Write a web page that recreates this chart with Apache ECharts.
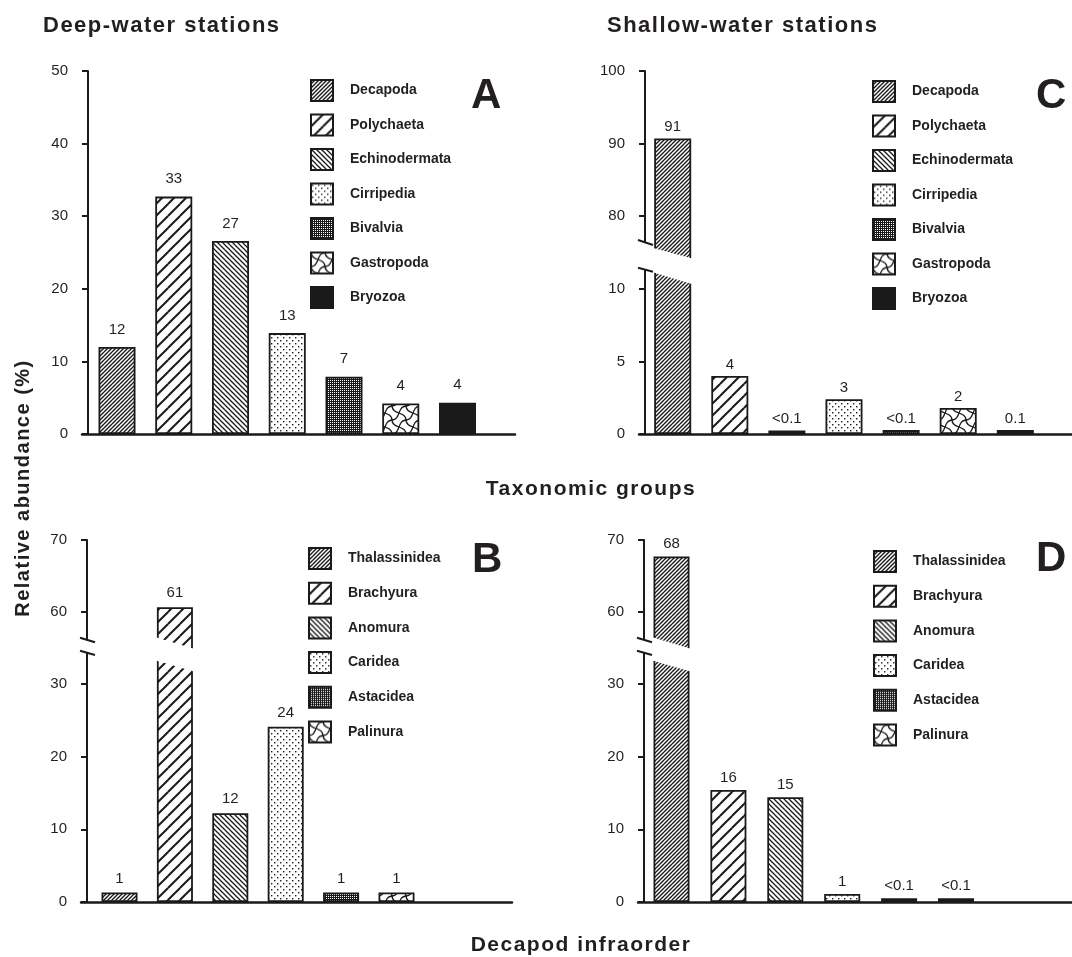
<!DOCTYPE html>
<html>
<head>
<meta charset="utf-8">
<script src="https://cdn.jsdelivr.net/npm/echarts@6/dist/echarts.min.js"></script>
<style>html,body{margin:0;padding:0;background:#fff}#c{width:1072px;height:957px}</style>
</head>
<body>
<div id="c"></div>
<script>
// ---------------- DATA ----------------
const taxaGroups = ['Decapoda', 'Polychaeta', 'Echinodermata', 'Cirripedia', 'Bivalvia', 'Gastropoda', 'Bryozoa'];
const deepTaxaValues = [12.0, 32.7, 26.6, 13.9, 7.9, 4.2, 4.3];
const deepTaxaLabels = ['12', '33', '27', '13', '7', '4', '4'];
const shallowTaxaValues = [90.7, 4.0, 0.25, 2.4, 0.28, 1.8, 0.28];
const shallowTaxaLabels = ['91', '4', '<0.1', '3', '<0.1', '2', '0.1'];

const infraorders = ['Thalassinidea', 'Brachyura', 'Anomura', 'Caridea', 'Astacidea', 'Palinura'];
const deepInfraValues = [1.3, 60.6, 12.2, 24.1, 1.3, 1.3];
const deepInfraLabels = ['1', '61', '12', '24', '1', '1'];
const shallowInfraValues = [67.7, 15.4, 14.4, 1.1, 0.5, 0.5];
const shallowInfraLabels = ['68', '16', '15', '1', '<0.1', '<0.1'];

const ticksA = [0, 10, 20, 30, 40, 50];
const ticksCLow = [0, 5, 10];
const ticksCHigh = [80, 90, 100];
const ticksBDLow = [0, 10, 20, 30];
const ticksBDHigh = [60, 70];

// ---------------- STYLE ----------------
const FONT = '"Liberation Sans", Arial, Helvetica, sans-serif';
const INK = '#1a1a1a';
const TXT = '#231f20';
const patternKinds = ['dense', 'sparse', 'back', 'dots', 'fine', 'wave', 'solid'];

// slight tracking for the large bold headings (as in the original typesetting)
(function () {
  const P = CanvasRenderingContext2D.prototype;
  const orig = P.fillText;
  P.fillText = function (t, x, y, m) {
    const r = /bold\s+([\d.]+)px/.exec(this.font || '');
    const sz = r ? parseFloat(r[1]) : 0;
    if (sz >= 18 && sz <= 30 && 'letterSpacing' in this) {
      const prev = this.letterSpacing;
      this.letterSpacing = '1.5px';
      if (m === undefined) orig.call(this, t, x, y); else orig.call(this, t, x, y, m);
      this.letterSpacing = prev;
      return;
    }
    if (m === undefined) return orig.call(this, t, x, y);
    return orig.call(this, t, x, y, m);
  };
})();

function makeFill(kind) {
  if (kind === 'solid') return INK;
  const sizes = {dense: 4, sparse: 12, back: 5, dots: 6, fine: 2, wave: 14};
  const s = sizes[kind];
  const c = document.createElement('canvas');
  c.width = s; c.height = s;
  const g = c.getContext('2d');
  g.fillStyle = '#fff'; g.fillRect(0, 0, s, s);
  g.strokeStyle = INK; g.fillStyle = INK;
  if (kind === 'dense' || kind === 'sparse') {
    g.lineWidth = kind === 'dense' ? 1.35 : 2;
    for (let i = -1; i <= 1; i++) for (let j = -1; j <= 1; j++) {
      g.beginPath(); g.moveTo(i * s, s + j * s); g.lineTo(i * s + s, j * s); g.stroke();
    }
  } else if (kind === 'back') {
    g.lineWidth = 1.3;
    for (let i = -1; i <= 1; i++) for (let j = -1; j <= 1; j++) {
      g.beginPath(); g.moveTo(i * s, j * s); g.lineTo(i * s + s, s + j * s); g.stroke();
    }
  } else if (kind === 'dots') {
    g.fillRect(1, 1, 1.4, 1.4); g.fillRect(4, 4, 1.4, 1.4);
  } else if (kind === 'fine') {
    g.fillStyle = INK; g.fillRect(0, 0, 2, 2);
    g.fillStyle = '#fff'; g.fillRect(0, 0, 1, 1);
  } else if (kind === 'wave') {
    g.lineWidth = 1.3;
    for (let i = -1; i <= 1; i++) for (let j = -1; j <= 1; j++) {
      const ox = i * s, oy = j * s;
      g.beginPath();
      g.moveTo(ox, oy + s);
      g.bezierCurveTo(ox + 0.65 * s, oy + 0.95 * s, ox + 0.35 * s, oy + 0.05 * s, ox + s, oy);
      g.stroke();
      g.beginPath();
      g.moveTo(ox, oy);
      g.bezierCurveTo(ox + 0.05 * s, oy + 0.65 * s, ox + 0.95 * s, oy + 0.35 * s, ox + s, oy + s);
      g.stroke();
    }
  }
  return {image: c, repeat: 'repeat'};
}
const fills = patternKinds.map(makeFill);

// ---------------- PANEL LAYOUT ----------------
const panelSpecs = [
  { // A
    cats: taxaGroups, values: deepTaxaValues, labels: deepTaxaLabels,
    axisX: 88, firstOff: 29, catW: 56.75, rightEnd: 515, barW: 37, labelDist: 10,
    lower: {bottomY: 434, topY: 71, max: 50, ticks: ticksA},
    legendPos: {left: 310, top: 79}, itemGap: 11.5
  },
  { // C
    cats: taxaGroups, values: shallowTaxaValues, labels: shallowTaxaLabels,
    axisX: 645, firstOff: 27.7, catW: 57.1, rightEnd: 1072, barW: 37, labelDist: 4,
    lower: {bottomY: 434, topY: 265, pxPerUnit: 14.5, ticks: ticksCLow},
    upper: {topY: 71, max: 100, pxPerUnit: 7.25, ticks: ticksCHigh},
    brk: {bar: 0, cover: [-22, 4.5], up: [-25, -20], lo: [2.7, 6.7], cut: [-16.7, -6.7, 7.5, 19]},
    legendPos: {left: 872, top: 80}, itemGap: 11.5
  },
  { // B
    cats: infraorders, values: deepInfraValues, labels: deepInfraLabels,
    axisX: 87, firstOff: 32.5, catW: 55.4, rightEnd: 512, barW: 36, labelDist: 6.5,
    lower: {bottomY: 902, topY: 655, pxPerUnit: 7.27, ticks: ticksBDLow},
    upper: {topY: 540, max: 70, pxPerUnit: 7.15, ticks: ticksBDHigh},
    brk: {bar: 1, cover: [-15, -2.5], up: [-17.3, -12.7], lo: [-4.3, 0], cut: [-17.5, -6.5, 5.8, 16.2]},
    legendPos: {left: 308, top: 547}, itemGap: 11.7
  },
  { // D
    cats: infraorders, values: shallowInfraValues, labels: shallowInfraLabels,
    axisX: 644, firstOff: 27.5, catW: 56.9, rightEnd: 1072, barW: 36, labelDist: 5,
    lower: {bottomY: 902, topY: 655, pxPerUnit: 7.27, ticks: ticksBDLow},
    upper: {topY: 540, max: 70, pxPerUnit: 7.15, ticks: ticksBDHigh},
    brk: {bar: 0, cover: [-15, -2.5], up: [-17.3, -12.7], lo: [-4.3, 0], cut: [-17.5, -6.5, 5.8, 16.2]},
    legendPos: {left: 873, top: 550}, itemGap: 11.7
  }
];

function yAxisCfg(gi, min, max, ticks) {
  return {
    gridIndex: gi, type: 'value', min: min, max: max, position: 'left', offset: -6,
    axisLine: {show: true, onZero: false, lineStyle: {color: INK, width: 2}},
    axisTick: {show: true, inside: false, length: 6, lineStyle: {color: INK, width: 2}, customValues: ticks},
    axisLabel: {show: true, customValues: ticks, margin: 20, fontSize: 15, color: TXT, fontFamily: FONT},
    splitLine: {show: false}
  };
}
function xAxisCfg(gi, min, max, show) {
  return {
    gridIndex: gi, type: 'value', min: min, max: max, position: 'bottom', show: show,
    axisLine: {show: true, onZero: false, lineStyle: {color: INK, width: 2.5}},
    axisTick: {show: false}, axisLabel: {show: false}, splitLine: {show: false}
  };
}
function barSeries(name, gi, idx, value, labelText, p, kindIdx) {
  return {
    type: 'bar', name: name, xAxisIndex: gi, yAxisIndex: gi,
    data: [[idx, value]], barWidth: p.barW, barGap: '-100%',
    itemStyle: {color: fills[kindIdx], borderColor: INK, borderWidth: 1.8},
    label: {
      show: labelText != null, position: 'top', distance: p.labelDist,
      formatter: labelText == null ? '' : labelText,
      fontSize: 15, color: TXT, fontFamily: FONT
    },
    emphasis: {disabled: true}, animation: false, z: 2
  };
}

const grid = [], xAxis = [], yAxis = [], series = [], legend = [];
panelSpecs.forEach(function (p) {
  const gl = p.axisX - 6;
  const xmin = -(p.firstOff + 6) / p.catW;
  const xmax = xmin + (p.rightEnd - gl) / p.catW;
  const lo = p.lower;
  const loMax = lo.max !== undefined ? lo.max : (lo.bottomY - lo.topY) / lo.pxPerUnit;
  p.lowIdx = grid.length;
  grid.push({left: gl, top: lo.topY, width: p.rightEnd - gl, height: lo.bottomY - lo.topY, outerBoundsMode: 'none', containLabel: false});
  xAxis.push(xAxisCfg(p.lowIdx, xmin, xmax, true));
  yAxis.push(yAxisCfg(p.lowIdx, 0, loMax, lo.ticks));
  if (p.upper) {
    const up = p.upper;
    const upMin = up.max - (lo.topY - up.topY) / up.pxPerUnit;
    p.upIdx = grid.length;
    grid.push({left: gl, top: up.topY, width: p.rightEnd - gl, height: lo.topY - up.topY, outerBoundsMode: 'none', containLabel: false});
    xAxis.push(xAxisCfg(p.upIdx, xmin, xmax, false));
    yAxis.push(yAxisCfg(p.upIdx, upMin, up.max, up.ticks));
  }
  p.cats.forEach(function (name, i) {
    const v = p.values[i];
    const broken = !!p.upper && v > loMax;
    series.push(barSeries(name, p.lowIdx, i, v, broken ? null : p.labels[i], p, i));
    if (broken) series.push(barSeries(name, p.upIdx, i, v, p.labels[i], p, i));
  });
  legend.push({
    orient: 'vertical', left: p.legendPos.left, top: p.legendPos.top, padding: 0,
    itemWidth: 22, itemHeight: 21, itemGap: p.itemGap, icon: 'rect', selectedMode: false,
    data: p.cats.slice(),
    textStyle: {fontSize: 14, fontWeight: 'bold', color: TXT, fontFamily: FONT, padding: [0, 0, 0, 12]}
  });
});

const chart = echarts.init(document.getElementById('c'), null, {renderer: 'canvas', width: 1072, height: 957});
chart.setOption({
  animation: false,
  backgroundColor: '#fff',
  grid: grid, xAxis: xAxis, yAxis: yAxis, series: series, legend: legend
});

// ---------------- TEXTS + AXIS BREAKS ----------------
function txt(id, text, x, y, size, align, rot) {
  return {
    type: 'text', id: id, x: x, y: y, rotation: rot || 0, z: 200,
    style: {
      text: text, fontSize: size, fontWeight: 'bold', fontFamily: FONT, fill: TXT,
      align: align, verticalAlign: 'middle', textAlign: align, textVerticalAlign: 'middle'
    }
  };
}
const graphics = [
  txt('t1', 'Deep-water stations', 43, 26, 22, 'left'),
  txt('t2', 'Shallow-water stations', 607, 26, 22, 'left'),
  txt('t3', 'Taxonomic groups', 591, 489, 21, 'center'),
  txt('t4', 'Decapod infraorder', 581, 945, 21, 'center'),
  txt('t5', 'Relative abundance (%)', 23, 488, 20, 'center', Math.PI / 2),
  txt('lA', 'A', 487, 96, 42, 'center'),
  txt('lC', 'C', 1052, 96, 42, 'center'),
  txt('lB', 'B', 488, 560, 42, 'center'),
  txt('lD', 'D', 1052, 559, 42, 'center')
];
panelSpecs.forEach(function (p, k) {
  if (!p.brk) return;
  const b = p.brk;
  const yb = p.lower.topY;
  const ax = p.axisX;
  const cx = chart.convertToPixel({xAxisIndex: p.lowIdx}, b.bar);
  const L = cx - p.barW / 2 - 2, R = cx + p.barW / 2 + 2;
  const sl = (b.cut[1] - b.cut[0]) / p.barW, sl2 = (b.cut[3] - b.cut[2]) / p.barW;
  graphics.push({
    type: 'polygon', id: 'gap' + k, z: 150,
    shape: {points: [[L, yb + b.cut[0] - 2 * sl], [R, yb + b.cut[1] + 2 * sl], [R, yb + b.cut[3] + 2 * sl2], [L, yb + b.cut[2] - 2 * sl2]]},
    style: {fill: '#fff', stroke: null}
  });
  graphics.push({
    type: 'rect', id: 'ac' + k, z: 150,
    shape: {x: ax - 4, y: yb + b.cover[0], width: 8, height: b.cover[1] - b.cover[0]},
    style: {fill: '#fff'}
  });
  graphics.push({
    type: 'line', id: 'su' + k, z: 160,
    shape: {x1: ax - 7, y1: yb + b.up[0], x2: ax + 8, y2: yb + b.up[1]},
    style: {stroke: INK, lineWidth: 2}
  });
  graphics.push({
    type: 'line', id: 'sl' + k, z: 160,
    shape: {x1: ax - 7, y1: yb + b.lo[0], x2: ax + 8, y2: yb + b.lo[1]},
    style: {stroke: INK, lineWidth: 2}
  });
});
chart.setOption({graphic: graphics});
</script>
</body>
</html>
